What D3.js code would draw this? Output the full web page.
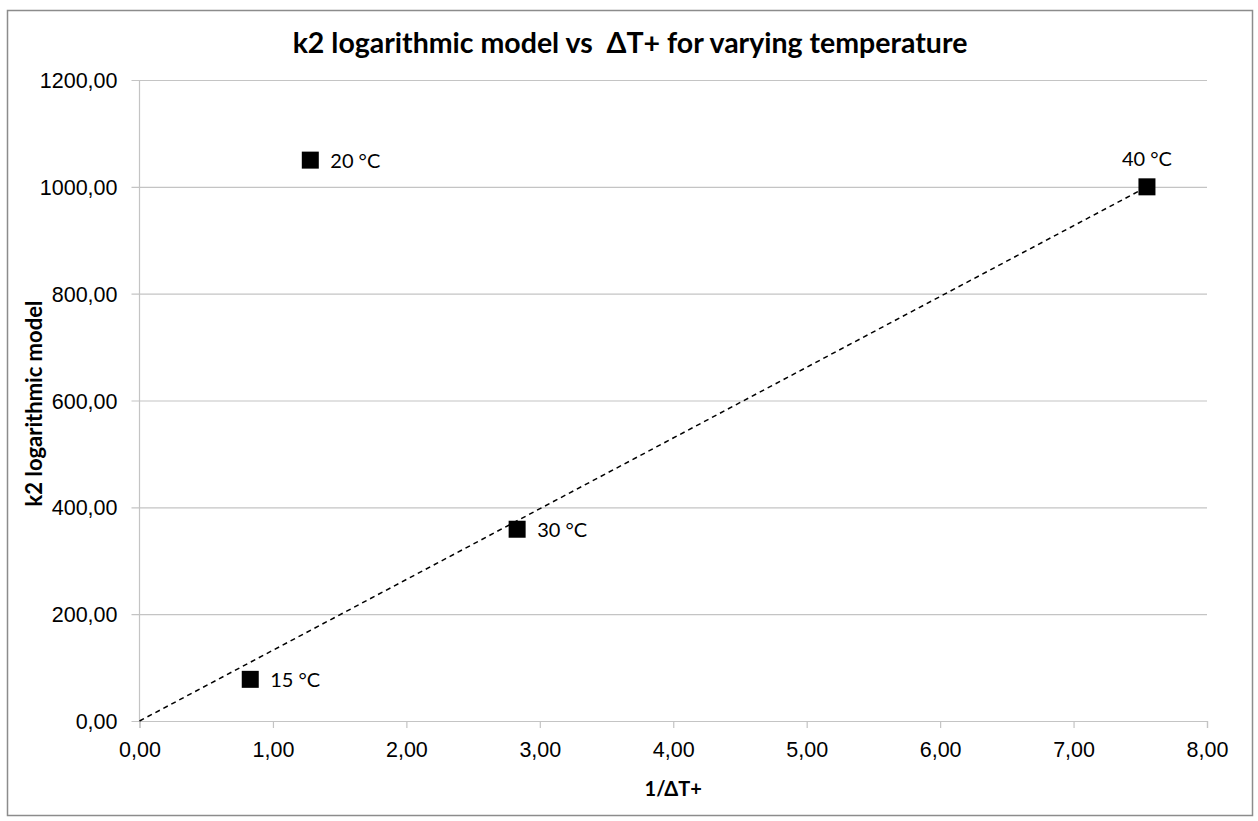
<!DOCTYPE html>
<html>
<head>
<meta charset="utf-8">
<script src="https://cdn.jsdelivr.net/npm/d3@7"></script>
<style>
  body { margin: 0; background: #fff; }
  svg { display: block; font-family: Lato, "Open Sans", sans-serif; }
</style>
</head>
<body>
<svg id="chart" width="1258" height="821"></svg>
<script>
// data
var xValues = [0.83, 1.28, 2.83, 7.55];
var yValues = [78, 1050, 359, 1000];
var pointLabels = ['15 °C', '20 °C', '30 °C', '40 °C'];
// trend line ends (dashed)
var trendX = [0, 7.55];
var trendY = [0, 1000];
var xTicks = [0, 1, 2, 3, 4, 5, 6, 7, 8];
var yTicks = [0, 200, 400, 600, 800, 1000, 1200];

var svg = d3.select('#chart');
var margin = { top: 80, right: 51, bottom: 100, left: 139.5 };
var width = 1258, height = 821;
var innerW = width - margin.left - margin.right;
var innerH = height - margin.top - margin.bottom;

var fmt = function(d) { return d3.format('.2f')(d).replace('.', ','); };

// outer border
svg.append('rect')
  .attr('x', 7.5).attr('y', 10.5)
  .attr('width', 1245).attr('height', 805)
  .attr('fill', 'white')
  .attr('stroke', '#8c8c8c')
  .attr('stroke-width', 1.5);

var x = d3.scaleLinear().domain([0, 8]).range([0, innerW]);
var y = d3.scaleLinear().domain([0, 1200]).range([innerH, 0]);

var g = svg.append('g')
  .attr('transform', 'translate(' + margin.left + ',' + margin.top + ')');

// horizontal gridlines + left ticks
g.append('g')
  .call(d3.axisLeft(y).tickValues(yTicks).tickSize(-innerW).tickFormat(fmt))
  .call(function(a) { a.select('.domain').remove(); })
  .call(function(a) {
    a.selectAll('.tick line').attr('stroke', '#c4c4c4').attr('stroke-width', 1.2).attr('x1', -8);
    a.selectAll('.tick text').attr('fill', '#000').style('font-size', '21.5px').attr('x', -22).attr('dy', '0.35em');
  });

// y axis line
g.append('line')
  .attr('x1', 0).attr('x2', 0).attr('y1', 0).attr('y2', innerH)
  .attr('stroke', '#c4c4c4').attr('stroke-width', 1.2);

// x axis
g.append('g')
  .attr('transform', 'translate(0,' + innerH + ')')
  .call(d3.axisBottom(x).tickValues(xTicks).tickSize(7).tickFormat(fmt).tickPadding(14))
  .call(function(a) {
    a.select('.domain').attr('stroke', '#c4c4c4').attr('stroke-width', 1.2);
    a.selectAll('.tick line').attr('stroke', '#c4c4c4').attr('stroke-width', 1.2);
    a.selectAll('.tick text').attr('fill', '#000').style('font-size', '21.5px');
  });

// trend line
var trend = trendX.map(function(d, i) { return [d, trendY[i]]; });
g.append('path')
  .datum(trend)
  .attr('fill', 'none')
  .attr('stroke', '#000')
  .attr('stroke-width', 1.5)
  .attr('stroke-dasharray', '5,4')
  .attr('d', d3.line().x(function(d) { return x(d[0]); }).y(function(d) { return y(d[1]); }));

// points
var pts = xValues.map(function(d, i) { return { x: d, y: yValues[i], label: pointLabels[i] }; });
var sz = 17;
g.selectAll('rect.pt')
  .data(pts)
  .enter().append('rect')
  .attr('class', 'pt')
  .attr('x', function(d) { return x(d.x) - sz / 2; })
  .attr('y', function(d) { return y(d.y) - sz / 2; })
  .attr('width', sz).attr('height', sz)
  .attr('fill', '#000');

g.selectAll('text.pl')
  .data(pts)
  .enter().append('text')
  .attr('class', 'pl')
  .attr('x', function(d, i) { return i === 3 ? x(d.x) : x(d.x) + 20; })
  .attr('y', function(d, i) { return i === 3 ? y(d.y) - 21 : y(d.y) + 7.5; })
  .attr('text-anchor', function(d, i) { return i === 3 ? 'middle' : 'start'; })
  .style('font-size', '20px')
  .attr('fill', '#000')
  .text(function(d) { return d.label; });

// title
svg.append('text')
  .attr('x', 630).attr('y', 53)
  .attr('text-anchor', 'middle')
  .style('font-size', '28.5px')
  .style('font-weight', 'bold')
  .attr('xml:space', 'preserve')
  .text('k2 logarithmic model vs  \u0394T+ for varying temperature');

// axis titles
svg.append('text')
  .attr('x', margin.left + innerW / 2).attr('y', 796)
  .attr('text-anchor', 'middle')
  .style('font-size', '20px')
  .style('font-weight', 'bold')
  .text('1/\u0394T+');

svg.append('text')
  .attr('transform', 'translate(42,' + (margin.top + innerH / 2 + 3) + ') rotate(-90)')
  .attr('text-anchor', 'middle')
  .style('font-size', '22px')
  .style('font-weight', 'bold')
  .text('k2 logarithmic model');
</script>
</body>
</html>
